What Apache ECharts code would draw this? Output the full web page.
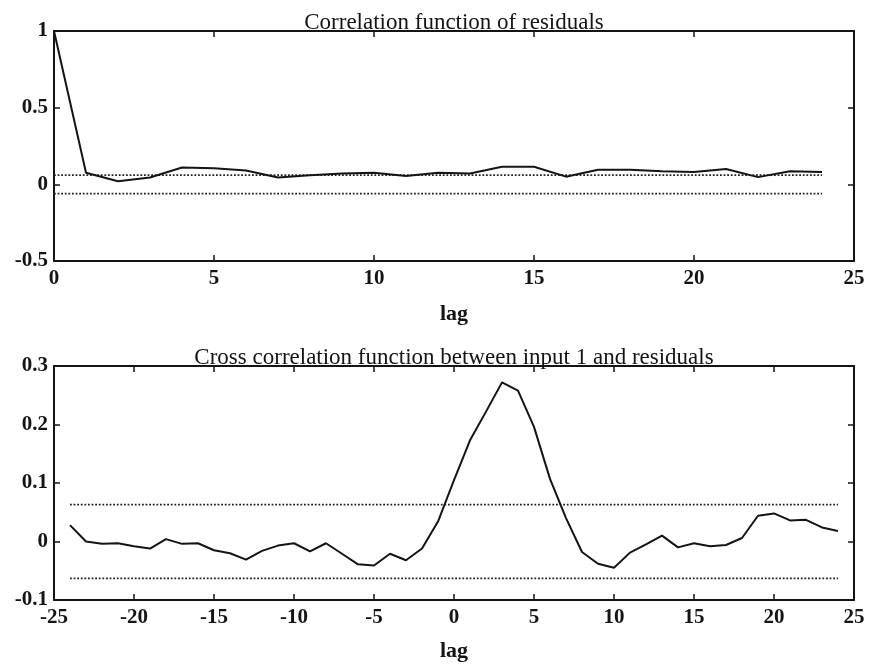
<!DOCTYPE html>
<html>
<head>
<meta charset="utf-8">
<script src="https://cdn.jsdelivr.net/npm/echarts@6/dist/echarts.min.js"></script>
<style>
html,body{margin:0;padding:0;background:#ffffff;}
#chart{width:872px;height:667px;}
</style>
</head>
<body>
<div id="chart"></div>
<script>
// ---- data ----
const acfTitle = 'Correlation function of residuals';
const ccfTitle = 'Cross correlation function between input 1 and residuals';
const xName = 'lag';

const acfLags = [0,1,2,3,4,5,6,7,8,9,10,11,12,13,14,15,16,17,18,19,20,21,22,23,24];
const acfValues = [1.0,0.075,0.02,0.045,0.11,0.105,0.09,0.045,0.06,0.07,0.075,0.055,0.075,0.07,0.115,0.115,0.05,0.095,0.095,0.085,0.08,0.1,0.047,0.085,0.08];
const acfConf = 0.06;

const ccfLags = [-24,-23,-22,-21,-20,-19,-18,-17,-16,-15,-14,-13,-12,-11,-10,-9,-8,-7,-6,-5,-4,-3,-2,-1,0,1,2,3,4,5,6,7,8,9,10,11,12,13,14,15,16,17,18,19,20,21,22,23,24];
const ccfValues = [0.028,0.0,-0.004,-0.003,-0.008,-0.012,0.004,-0.004,-0.003,-0.015,-0.02,-0.031,-0.016,-0.007,-0.003,-0.017,-0.003,-0.021,-0.039,-0.041,-0.021,-0.032,-0.012,0.034,0.105,0.173,0.222,0.272,0.258,0.196,0.107,0.04,-0.018,-0.038,-0.045,-0.019,-0.005,0.01,-0.01,-0.003,-0.008,-0.006,0.006,0.044,0.048,0.036,0.037,0.024,0.018];
const ccfConf = 0.063;

const acfXTicks = {min:0, max:25, interval:5};
const acfYTicks = {min:-0.5, max:1, interval:0.5};
const ccfXTicks = {min:-25, max:25, interval:5};
const ccfYTicks = {min:-0.1, max:0.3, interval:0.1};

// ---- build ----
const FONT = '"Liberation Serif", "DejaVu Serif", serif';
const INK = '#141414';

function pairs(xs, ys){ return xs.map((x,i)=>[x, ys[i]]); }
function bound(xs, v){ return xs.map(x=>[x, v]); }
function fmt(v){ return String(+(+v).toFixed(2)); }

const lineAxis = {show:true, onZero:false, lineStyle:{color:INK, width:2}};
const tickIn = {show:true, inside:true, length:6, lineStyle:{color:INK, width:1.5}};
const tickLabel = {show:true, fontFamily:FONT, fontSize:21, fontWeight:'bold', color:INK, formatter:fmt, showMinLabel:true, showMaxLabel:true};

function mainX(grid, t, nameGap){
  return {gridIndex:grid, type:'value', position:'bottom', min:t.min, max:t.max, interval:t.interval,
    axisLine:lineAxis, axisTick:tickIn, splitLine:{show:false},
    axisLabel:Object.assign({margin:7}, tickLabel),
    name:xName, nameLocation:'middle', nameGap:nameGap,
    nameTextStyle:{fontFamily:FONT, fontSize:22, fontWeight:'bold', color:INK}};
}
function topX(grid, t, title, gap){
  return {gridIndex:grid, type:'value', position:'top', min:t.min, max:t.max, interval:t.interval,
    axisLine:lineAxis, axisTick:tickIn, splitLine:{show:false}, axisLabel:{show:false},
    name:title, nameLocation:'middle', nameGap:gap,
    nameTextStyle:{fontFamily:FONT, fontSize:23, color:INK}};
}
function mainY(grid, t){
  return {gridIndex:grid, type:'value', position:'left', min:t.min, max:t.max, interval:t.interval,
    axisLine:lineAxis, axisTick:tickIn, splitLine:{show:false},
    axisLabel:Object.assign({margin:6}, tickLabel)};
}
function rightY(grid, t){
  return {gridIndex:grid, type:'value', position:'right', min:t.min, max:t.max, interval:t.interval,
    axisLine:lineAxis, axisTick:tickIn, splitLine:{show:false}, axisLabel:{show:false}};
}

const dataLine = {color:INK, width:2};
const dotLine = {color:'#222222', width:1.8, type:[1.8,1.8]};

const option = {
  animation:false,
  backgroundColor:'#ffffff',
  grid:[
    {left:54, right:18, top:31, height:230},
    {left:54, right:18, top:366, height:234}
  ],
  xAxis:[
    mainX(0, acfXTicks, 42),
    topX(0, acfXTicks, acfTitle, -3),
    mainX(1, ccfXTicks, 40),
    topX(1, ccfXTicks, ccfTitle, -3)
  ],
  yAxis:[
    mainY(0, acfYTicks),
    rightY(0, acfYTicks),
    mainY(1, ccfYTicks),
    rightY(1, ccfYTicks)
  ],
  series:[
    {type:'line', xAxisIndex:0, yAxisIndex:0, data:bound(acfLags, acfConf), symbol:'none', lineStyle:dotLine, silent:true},
    {type:'line', xAxisIndex:0, yAxisIndex:0, data:bound(acfLags, -acfConf), symbol:'none', lineStyle:dotLine, silent:true},
    {type:'line', xAxisIndex:0, yAxisIndex:0, data:pairs(acfLags, acfValues), symbol:'none', lineStyle:dataLine},
    {type:'line', xAxisIndex:2, yAxisIndex:2, data:bound(ccfLags, ccfConf), symbol:'none', lineStyle:dotLine, silent:true},
    {type:'line', xAxisIndex:2, yAxisIndex:2, data:bound(ccfLags, -ccfConf), symbol:'none', lineStyle:dotLine, silent:true},
    {type:'line', xAxisIndex:2, yAxisIndex:2, data:pairs(ccfLags, ccfValues), symbol:'none', lineStyle:dataLine}
  ]
};

const chart = echarts.init(document.getElementById('chart'), null, {renderer:'canvas'});
chart.setOption(option);
</script>
</body>
</html>
